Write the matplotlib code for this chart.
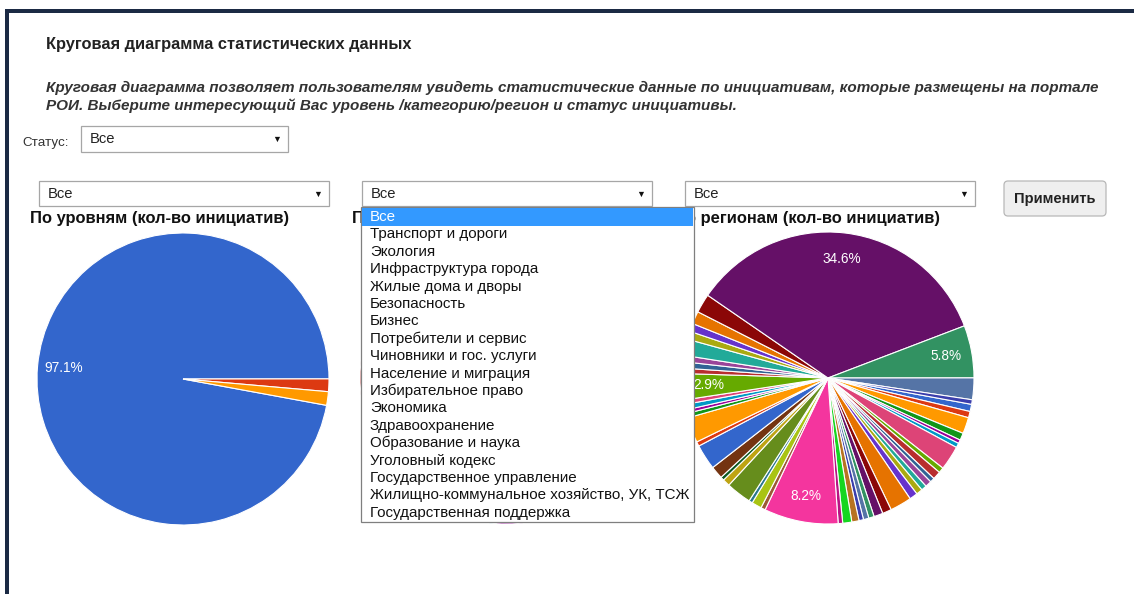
import matplotlib
matplotlib.use("Agg")
import matplotlib.pyplot as plt
from matplotlib.patches import Rectangle, FancyBboxPatch
import numpy as np

plt.rcParams['font.family'] = ['Liberation Sans', 'DejaVu Sans']

W, H = 1134, 594

# Google Charts default palette (colours cycle through it)
PALETTE = ['#3366cc', '#dc3912', '#ff9900', '#109618', '#990099', '#0099c6',
           '#dd4477', '#66aa00', '#b82e2e', '#316395', '#994499', '#22aa99',
           '#aaaa11', '#6633cc', '#e67300', '#8b0707', '#651067', '#329262',
           '#5574a6', '#3b3eac', '#b77322', '#16d620', '#b91383', '#f4359e',
           '#9c5935', '#a9c413', '#2a778d', '#668d1c', '#bea413', '#0c5922',
           '#743411']

# --- data (percent of initiatives) ---
# По уровням
level_values = [97.1, 1.4, 1.5]

# По категориям - almost entirely hidden behind the open dropdown
category_values = [5.0, 4.5, 5.0, 4.0, 4.7, 5.5, 5.0, 6.0, 10.0,
                   7.0, 6.0, 8.0, 5.0, 7.3, 6.0, 5.0, 6.0]

# По регионам (clockwise)
region_values = [0.8, 0.7, 1.8, 0.8, 0.4, 0.5, 2.7,
                 0.6, 0.9, 0.5, 0.7, 0.6, 0.7, 0.9,
                 2.4, 1.0, 1.0,
                 0.6, 0.6, 0.5, 0.8, 1.0, 0.5,
                 8.2,
                 0.5, 1.1, 0.4, 2.8, 0.8, 0.4, 1.4,
                 2.8, 0.5, 2.8, 0.5, 0.4, 0.6, 0.5, 2.9,
                 0.6, 0.7, 0.7, 1.8, 0.9, 0.9, 1.4, 2.1,
                 34.6, 5.8, 2.4, 0.5]

category_items = ['Все', 'Транспорт и дороги', 'Экология', 'Инфраструктура города',
                  'Жилые дома и дворы', 'Безопасность', 'Бизнес',
                  'Потребители и сервис', 'Чиновники и гос. услуги',
                  'Население и миграция', 'Избирательное право', 'Экономика',
                  'Здравоохранение', 'Образование и наука', 'Уголовный кодекс',
                  'Государственное управление',
                  'Жилищно-коммунальное хозяйство, УК, ТСЖ',
                  'Государственная поддержка']

page_title = 'Круговая диаграмма статистических данных'
intro_lines = ['Круговая диаграмма позволяет пользователям увидеть статистические данные по инициативам, которые размещены на портале',
               'РОИ. Выберите интересующий Вас уровень /категорию/регион и статус инициативы.']
chart_titles = ['По уровням (кол-во инициатив)', 'По категориям (кол-во инициатив)',
                'По регионам (кол-во инициатив)']

START = -10.4   # first slice starts a little below 3 o'clock, goes clockwise
R = 146

fig = plt.figure(figsize=(W / 100, H / 100), dpi=100)
fig.patch.set_facecolor('white')


def draw_pie(cx, cy, values, labelled=True):
    ax = fig.add_axes([(cx - R) / W, (H - cy - R) / H, 2 * R / W, 2 * R / H])
    colors = [PALETTE[i % len(PALETTE)] for i in range(len(values))]
    wedges, _ = ax.pie(values, colors=colors, startangle=START, counterclock=False,
                       wedgeprops=dict(edgecolor='white', linewidth=0.8))
    ax.set_xlim(-1, 1)
    ax.set_ylim(-1, 1)
    if labelled:
        for w, v in zip(wedges, values):
            if v >= 2.85:
                mid = np.deg2rad((w.theta1 + w.theta2) / 2)
                ax.text(0.82 * np.cos(mid), 0.82 * np.sin(mid), f'{v:.1f}%',
                        color='white', ha='center', va='center', fontsize=9.8)
    return ax


draw_pie(183, 379, level_values)
draw_pie(506, 378, category_values, labelled=False)
draw_pie(828, 378, region_values)

# page elements drawn in pixel coordinates on top
ov = fig.add_axes([0, 0, 1, 1], zorder=10)
ov.set_xlim(0, W)
ov.set_ylim(H, 0)
ov.axis('off')

navy = '#1b2a44'
ov.add_patch(Rectangle((5, 9), W - 5, 3.5, color=navy, lw=0))
ov.add_patch(Rectangle((5, 9), 3.5, H - 9, color=navy, lw=0))

ov.text(46, 44, page_title, fontsize=11.8, fontweight='bold', color='#222',
        va='center')
for i, line in enumerate(intro_lines):
    ov.text(46, 88 + i * 18, line, fontsize=11, fontweight='bold', style='italic',
            color='#333', va='center')

ov.text(22, 143, 'Статус:', fontsize=9.6, color='#333', va='center')


def select_box(x0, x1, y0, y1, text='Все'):
    ov.add_patch(Rectangle((x0, y0), x1 - x0, y1 - y0, facecolor='white',
                           edgecolor='#a6a6a6', lw=0.9))
    ov.text(x0 + 9, (y0 + y1) / 2, text, fontsize=10.6, va='center', color='#222')
    ov.text(x1 - 11, (y0 + y1) / 2 + 0.5, '▼', fontsize=6.5, va='center',
            ha='center', color='#111')


select_box(81, 288, 126, 152)
select_box(39, 329, 181, 206)
select_box(362, 652, 181, 206)
select_box(685, 975, 181, 206)

ov.add_patch(FancyBboxPatch((1004, 181), 102, 35,
                            boxstyle='round,pad=0,rounding_size=4',
                            facecolor='#efefef', edgecolor='#b8b8b8', lw=0.9))
ov.text(1055, 198.5, 'Применить', fontsize=10.5, fontweight='bold', color='#222',
        ha='center', va='center')

for x, t in zip([30, 352, 674], chart_titles):
    ov.text(x, 219, t, fontsize=11.9, fontweight='bold', color='#111', va='center')

# open category dropdown list
ov.add_patch(Rectangle((361, 207), 333, 315, facecolor='white',
                       edgecolor='#7f7f7f', lw=0.9, zorder=3))
ov.add_patch(Rectangle((362, 208), 331, 18, facecolor='#3399ff',
                       edgecolor='none', zorder=3))
for i, item in enumerate(category_items):
    ov.text(370, 217 + i * 17.4, item, fontsize=10.9, va='center', zorder=4,
            color='white' if i == 0 else '#111')

fig.savefig('out.png', dpi=100)
